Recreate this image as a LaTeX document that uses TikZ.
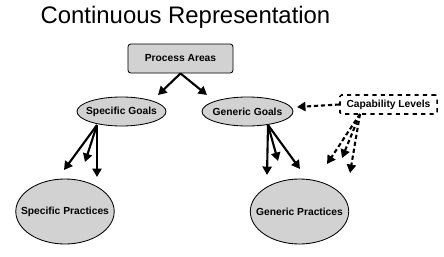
\documentclass[tikz,border=0pt]{standalone}
\usepackage{fontspec}
\setmainfont{Liberation Sans}
\usetikzlibrary{arrows.meta, shapes.geometric}

\begin{document}
\begin{tikzpicture}[
  x=0.025cm, y=-0.025cm,
  grayfill/.style={draw=black, line width=0.6pt, fill=gray!35, font=\fontsize{7.3}{8}\selectfont\bfseries},
  box/.style={grayfill, rectangle, rounded corners=2pt, minimum width=2.625cm, minimum height=0.725cm},
  goal/.style={grayfill, ellipse, inner xsep=-12pt, inner ysep=0pt, minimum height=0.725cm},
  practice/.style={grayfill, ellipse, inner xsep=-12pt, inner ysep=0pt, minimum width=2.46cm, minimum height=1.625cm},
  levelbox/.style={rectangle, draw=black, line width=1.1pt, dashed, rounded corners=1pt, fill=white, minimum width=2.425cm, minimum height=0.475cm, font=\fontsize{7.3}{8}\selectfont\bfseries},
  arrow/.style={line width=1.5pt, -{Triangle[length=6pt,width=6.5pt]}},
  dasharrow/.style={arrow, dash pattern=on 3pt off 2pt}
]
\useasboundingbox (0,0) rectangle (444,256);

\node (title) at (185.5,17) {\fontsize{17}{19}\selectfont Continuous Representation};

\node (areas) [box] at (180.5,58.5) {Process Areas};
\node (sgoals) [goal, minimum width=2.225cm] at (121.5,111.5) {Specific Goals};
\node (ggoals) [goal, minimum width=2.275cm] at (247.5,111.5) {Generic Goals};
\node (levels) [levelbox] at (388.5,104.5) {Capability Levels};
\node (spractices) [practice] at (65,211.5) {Specific Practices};
\node (gpractices) [practice] at (299.5,211.5) {Generic Practices};

\coordinate (sgfoot) at (97,125);
\coordinate (ggfoot) at (268,125);
\coordinate (levelsfoot) at (360,114);

\coordinate (sgtip) at (158,95);
\coordinate (ggtip) at (207,95);
\coordinate (ggside) at (297,107);
\coordinate (sptip1) at (64,170);
\coordinate (sptip2) at (85,162);
\coordinate (sptip3) at (97,177);
\coordinate (gptip1) at (267,175);
\coordinate (gptip2) at (278,161);
\coordinate (gptip3) at (300,169);
\coordinate (lvtip1) at (327,164);
\coordinate (lvtip2) at (342,158);
\coordinate (lvtip3) at (350,173);

\draw [arrow] (areas.south) -- (sgtip);
\draw [arrow] (areas.south) -- (ggtip);
\draw [arrow] (sgfoot) -- (sptip1);
\draw [arrow] (sgfoot) -- (sptip2);
\draw [arrow] (sgfoot) -- (sptip3);
\draw [arrow] (ggfoot) -- (gptip1);
\draw [arrow] (ggfoot) -- (gptip2);
\draw [arrow] (ggfoot) -- (gptip3);
\draw [dasharrow] (levels.west) -- (ggside);
\draw [dasharrow] (levelsfoot) -- (lvtip1);
\draw [dasharrow] (levelsfoot) -- (lvtip2);
\draw [dasharrow] (levelsfoot) -- (lvtip3);
\end{tikzpicture}
\end{document}
